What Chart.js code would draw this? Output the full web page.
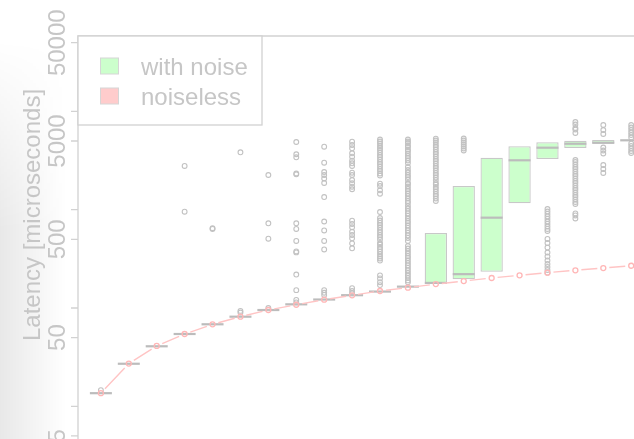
<!DOCTYPE html>
<html>
<head>
<meta charset="utf-8">
<script src="https://cdn.jsdelivr.net/npm/chart.js@4.4.0/dist/chart.umd.min.js"></script>
<style>
  html, body { margin: 0; padding: 0; background: #fff; }
  #wrap { position: relative; width: 634px; height: 439px; overflow: hidden; }
  #shade {
    position: absolute; left: 0; top: 0; width: 66px; height: 439px;
    background: linear-gradient(to right, rgba(0,0,0,0.09), rgba(0,0,0,0));
    -webkit-mask-image: linear-gradient(to bottom, transparent 40px, #000 230px);
    mask-image: linear-gradient(to bottom, transparent 40px, #000 230px);
  }
  canvas { position: absolute; left: 0; top: 0; }
</style>
</head>
<body>
<div id="wrap">
  <div id="shade"></div>
  <canvas id="latencyChart" width="634" height="439"></canvas>
</div>
<script>
// Run index for each box (x positions)
const categories = [1, 2, 3, 4, 5, 6, 7, 8, 9, 10, 11, 12, 13, 14, 15, 16, 17, 18, 19, 20];

// Noiseless latency per run (microseconds)
const noiseless = [13.6, 27.2, 41.1, 54.4, 68.2, 81.6, 95.4, 108, 121.6, 134.7, 149, 161, 175, 188, 202, 215, 229, 242, 255, 269];

// With-noise box statistics
const q1 = [13.6, 27.1, 40.8, 54.4, 68.3, 81.6, 95.4, 109, 122, 135, 147, 165, 176, 196, 234, 1162, 3280, 4243, 4690, 5082];
const medians = [13.6, 27.1, 40.8, 54.4, 68.3, 81.6, 95.4, 109, 122, 135, 147, 165, 180, 221, 830, 3182, 4275, 4690, 4800, 5082];
const q3 = [13.6, 27.1, 40.8, 54.4, 68.3, 81.6, 95.4, 109, 122, 135, 147, 165, 580, 1743, 3380, 4417, 4852, 5036, 5118, 5082];

// Outliers per run
const outliers = [
  [14.6],
  [],
  [],
  [2786, 955],
  [637, 648],
  [3836, 93.5, 90],
  [2255, 727, 507, 100],
  [4887, 3664, 3414, 2335, 2290, 727, 637, 481, 376, 368, 219, 152, 121, 114],
  [4375, 3009, 2420, 2255, 2078, 1870, 1346, 759, 615, 481, 394, 152, 143, 136],
  [4920, 4550, 4215, 3750, 3460, 3155, 2965, 2786, 2380, 2255, 2006, 1857, 1714, 1614,
   773, 716, 662, 597, 553, 512, 455, 405, 159, 149, 141],
  [5178, 4941, 4715, 4448, 4244, 4050, 3820, 3602, 3437, 3242, 3058, 2918, 2752, 2595, 2476, 2336, 2229,
   1839, 1743, 1576, 1455, 948, 824, 777, 733, 699, 659, 622, 587, 553, 528, 498, 459, 442, 417, 398,
   376, 354, 334, 319, 304, 215, 200, 183, 171],
  [5178, 4941, 4771, 4500, 4345, 4098, 3956, 3731, 3519, 3358, 3167, 2987, 2720, 2535, 2391, 2255, 2152,
   2030, 1870, 1826, 1722, 1625, 1550, 1461, 1378, 1300, 1226, 1171, 1091, 1028, 970, 916, 864, 814, 768,
   733, 691, 652, 615, 580, 547, 516, 481, 427, 403, 380, 358, 338, 323, 304, 287, 271, 256, 241, 227,
   214, 202, 191, 183],
  [5277, 5059, 4827, 4553, 4345, 4098, 3865, 3687, 3478, 3280, 3130, 2952, 2784, 2657, 2506, 2363, 2255,
   2127, 2006, 1870, 1805, 1702, 1625, 1532, 1444, 1378, 1300, 1226],
  [5301, 5059, 4827, 4607, 4396, 4195, 4003],
  [],
  [],
  [1017, 959, 905, 854, 805, 759, 716, 675, 637, 608, 504, 458, 412, 367, 334, 304, 280, 262, 244, 229],
  [7804, 7361, 6782, 6546, 6031, 3204, 3058, 2884, 2720, 2595, 2448, 2308, 2203, 2078, 1960, 1870, 1763,
   1663, 1587, 1496, 1411, 1347, 1270, 1198, 1143, 916, 874, 814],
  [7275, 6470, 5892, 4295, 4003, 3731, 2850, 2595, 2363],
  [7275, 6862, 6470, 6102, 5754, 5427, 4715, 4448, 4195, 3956, 3775]
];

// Y axis ticks: labelled every half decade step, bare ticks in between
const labelledTicks = [5, 50, 500, 5000, 50000];
const minorTicks = [10, 100, 1000, 10000];

const legendItems = [
  { text: 'with noise', fill: '#ccffcc' },
  { text: 'noiseless', fill: '#ffcccc' }
];

const textGray = '#c6c6c6';
const lineGray = '#d2d2d2';
const FONT = '24px "Liberation Sans", Arial, sans-serif';

// Lines between noiseless points, broken around each marker
const gappedLine = {
  id: 'gappedLine',
  afterDatasetsDraw(chart) {
    const pts = chart.getDatasetMeta(3).data;
    const a = chart.chartArea;
    const gap = 6;
    const ctx = chart.ctx;
    ctx.save();
    ctx.beginPath();
    ctx.rect(a.left, a.top, a.right - a.left, a.bottom - a.top);
    ctx.clip();
    ctx.strokeStyle = '#ffc4c4';
    ctx.lineWidth = 1.4;
    ctx.beginPath();
    for (let i = 1; i < pts.length; i++) {
      const p = pts[i - 1], q = pts[i];
      const dx = q.x - p.x, dy = q.y - p.y;
      const len = Math.hypot(dx, dy);
      if (len <= gap * 2) continue;
      const ux = dx / len, uy = dy / len;
      ctx.moveTo(p.x + ux * gap, p.y + uy * gap);
      ctx.lineTo(q.x - ux * gap, q.y - uy * gap);
    }
    ctx.stroke();
    ctx.restore();
  }
};

// Frame, y axis, axis title and legend
const frame = {
  id: 'frame',
  afterDraw(chart) {
    const { ctx, chartArea: a } = chart;
    const y = chart.scales.y;
    ctx.save();
    ctx.strokeStyle = lineGray;
    ctx.lineWidth = 1.3;
    ctx.beginPath();
    ctx.moveTo(a.left, a.bottom + 2);
    ctx.lineTo(a.left, a.top);
    ctx.lineTo(a.right + 2, a.top);
    labelledTicks.concat(minorTicks).forEach(v => {
      const py = y.getPixelForValue(v);
      ctx.moveTo(a.left - 7, py);
      ctx.lineTo(a.left, py);
    });
    ctx.stroke();

    ctx.fillStyle = textGray;
    ctx.font = FONT;
    ctx.textAlign = 'center';
    ctx.textBaseline = 'alphabetic';
    labelledTicks.forEach(v => {
      const py = y.getPixelForValue(v);
      ctx.save();
      ctx.translate(a.left - 13, py);
      ctx.rotate(-Math.PI / 2);
      ctx.fillText(String(v), 0, 0);
      ctx.restore();
    });

    ctx.save();
    ctx.translate(a.left - 38.5, 215);
    ctx.rotate(-Math.PI / 2);
    ctx.fillText('Latency [microseconds]', 0, 0);
    ctx.restore();

    // legend box in the top-left corner of the plot
    const lx = a.left, ly = a.top, lw = 184, lh = 89;
    ctx.fillStyle = '#fff';
    ctx.fillRect(lx, ly, lw, lh);
    ctx.strokeStyle = lineGray;
    ctx.strokeRect(lx, ly, lw, lh);
    ctx.textAlign = 'left';
    legendItems.forEach((item, i) => {
      const cy = ly + 30 + i * 30;
      ctx.fillStyle = item.fill;
      ctx.fillRect(lx + 22.5, cy - 8, 18, 16);
      ctx.strokeStyle = '#d6d6d6';
      ctx.lineWidth = 1;
      ctx.strokeRect(lx + 22.5, cy - 8, 18, 16);
      ctx.fillStyle = textGray;
      ctx.fillText(item.text, lx + 63, cy + 9);
    });
    ctx.restore();
  }
};

const boxData = categories.map((c, i) => ({ x: c, y: [q1[i], q3[i]] }));
const medianData = categories.map((c, i) => ({ x: c, y: medians[i] }));
const outlierData = [];
outliers.forEach((list, i) => list.forEach(v => outlierData.push({ x: categories[i], y: v })));
const noiselessData = categories.map((c, i) => ({ x: c, y: noiseless[i] }));

new Chart(document.getElementById('latencyChart'), {
  type: 'bar',
  data: {
    datasets: [{
      type: 'bar',
      label: 'with noise',
      data: boxData,
      backgroundColor: '#ccffcc',
      borderColor: '#c8c8c8',
      borderWidth: 1.3,
      borderSkipped: false,
      categoryPercentage: 1,
      barPercentage: 0.8,
      order: 4
    }, {
      type: 'line',
      label: 'median',
      data: medianData,
      showLine: false,
      pointStyle: 'line',
      pointRadius: 11,
      pointBorderWidth: 2.2,
      pointBorderColor: '#bcbcbc',
      order: 3
    }, {
      type: 'line',
      label: 'outliers',
      data: outlierData,
      showLine: false,
      pointStyle: 'circle',
      pointRadius: 2.4,
      pointBorderWidth: 1.1,
      pointBorderColor: '#c2c2c2',
      pointBackgroundColor: 'rgba(0,0,0,0)',
      order: 2
    }, {
      type: 'line',
      label: 'noiseless',
      data: noiselessData,
      showLine: false,
      pointStyle: 'circle',
      pointRadius: 2.5,
      pointBorderWidth: 1.3,
      pointBorderColor: '#ffb6b6',
      pointBackgroundColor: 'rgba(0,0,0,0)',
      order: 1
    }]
  },
  options: {
    responsive: false,
    animation: false,
    layout: { autoPadding: false, padding: { left: 78, top: 36, right: 0, bottom: 0 } },
    plugins: { legend: { display: false }, tooltip: { enabled: false } },
    scales: {
      x: { type: 'linear', display: false, offset: false, grid: { offset: false }, min: 0.18, max: 20.1 },
      y: { type: 'logarithmic', display: false, beginAtZero: false, bounds: 'data', min: 4.65, max: 58500 }
    }
  },
  plugins: [gappedLine, frame]
});
</script>
</body>
</html>
